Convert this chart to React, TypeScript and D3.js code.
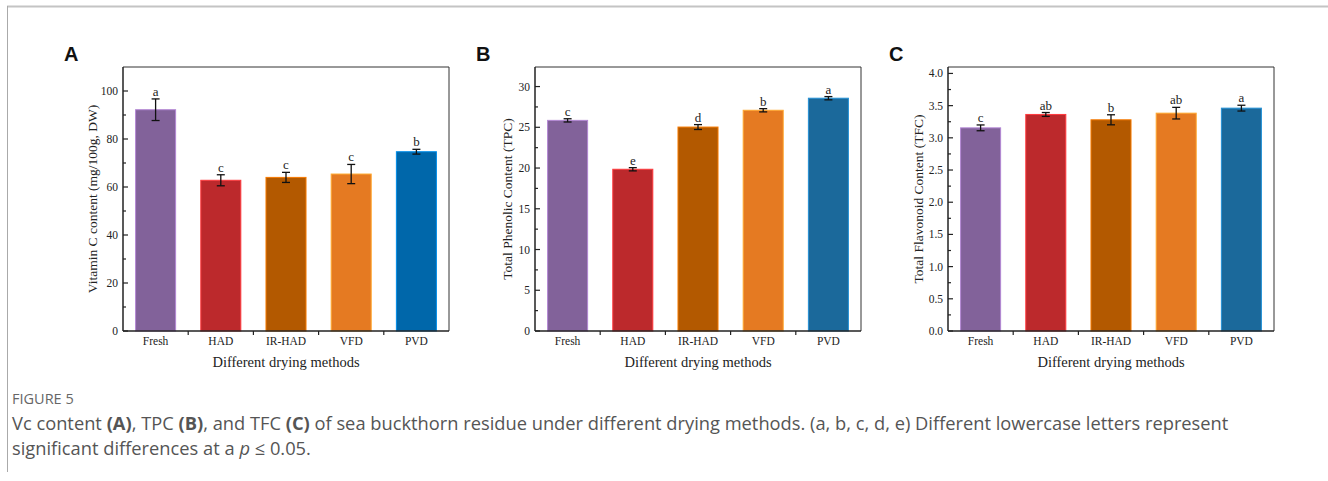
import React from 'react';
import * as d3 from 'd3';

const methods = ['Fresh', 'HAD', 'IR-HAD', 'VFD', 'PVD'];

const vcValues = [92.2, 62.8, 64.0, 65.4, 74.7];
const vcErrors = [4.5, 2.3, 2.1, 4.0, 1.0];
const vcLetters = ['a', 'c', 'c', 'c', 'b'];

const tpcValues = [25.85, 19.85, 25.03, 27.09, 28.57];
const tpcErrors = [0.2, 0.2, 0.3, 0.2, 0.2];
const tpcLetters = ['c', 'e', 'd', 'b', 'a'];

const tfcValues = [3.155, 3.363, 3.28, 3.383, 3.461];
const tfcErrors = [0.045, 0.03, 0.078, 0.09, 0.045];
const tfcLetters = ['c', 'ab', 'b', 'ab', 'a'];

const colorsA = ['#82629a', '#bc292c', '#b35900', '#e57a22', '#0067aa'];
const colorsBC = ['#82629a', '#bc292c', '#b35900', '#e57a22', '#1b699b'];

const serif = '"Liberation Serif", "DejaVu Serif", serif';
const frameTop = 67;
const frameBottom = 331;
const frameWidth = 326;

type PanelProps = {
  tag: string;
  left: number;
  values: number[];
  errors: number[];
  letters: string[];
  yMax: number;
  majorStep: number;
  tickFmt: (v: number) => string;
  yLabel: string;
  yLabelX: number;
  colors: string[];
};

const Panel = ({ tag, left, values, errors, letters, yMax, majorStep, tickFmt, yLabel, yLabelX, colors }: PanelProps) => {
  const xScale = d3
    .scaleBand<string>()
    .domain(methods)
    .range([left, left + frameWidth])
    .paddingInner(0.386)
    .paddingOuter(0.193);
  const yScale = d3.scaleLinear().domain([0, yMax]).range([frameBottom, frameTop]);
  const majors = d3.range(0, yMax + 1e-9, majorStep);
  const minors = d3.range(majorStep / 2, yMax, majorStep);
  const right = left + frameWidth;
  const step = xScale.step();
  const bw = xScale.bandwidth();
  return (
    <g>
      <text x={left - 59} y={61} fontFamily='"Liberation Sans", Arial, sans-serif' fontWeight="bold" fontSize={20} fill="#111">
        {tag}
      </text>
      {methods.map((m, i) => {
        const x = xScale(m) as number;
        const y = yScale(values[i]);
        const cx = x + bw / 2;
        const eTop = yScale(values[i] + errors[i]);
        const eBot = yScale(values[i] - errors[i]);
        return (
          <g key={m}>
            <rect
              x={x}
              y={y}
              width={bw}
              height={frameBottom - y}
              fill={colors[i]}
              stroke={d3.color(colors[i])!.brighter(0.9).formatHex()}
              strokeWidth={1}
            />
            <line x1={cx} x2={cx} y1={eTop} y2={eBot} stroke="#111" strokeWidth={1.3} />
            <line x1={cx - 4} x2={cx + 4} y1={eTop} y2={eTop} stroke="#111" strokeWidth={1.3} />
            <line x1={cx - 4} x2={cx + 4} y1={eBot} y2={eBot} stroke="#111" strokeWidth={1.3} />
            <text x={cx} y={eTop - 3} textAnchor="middle" fontFamily={serif} fontSize={13} fill="#222">
              {letters[i]}
            </text>
            <text x={cx} y={345} textAnchor="middle" fontFamily={serif} fontSize={11.5} fill="#222">
              {m}
            </text>
          </g>
        );
      })}
      {/* frame */}
      <line x1={left} x2={right} y1={frameTop} y2={frameTop} stroke="#333" strokeWidth={1} />
      <line x1={right} x2={right} y1={frameTop} y2={frameBottom} stroke="#333" strokeWidth={1} />
      <line x1={left} x2={left} y1={frameTop} y2={frameBottom} stroke="#222" strokeWidth={1.5} />
      <line x1={left} x2={right} y1={frameBottom} y2={frameBottom} stroke="#222" strokeWidth={1.5} />
      {majors.map(v => (
        <g key={'M' + v}>
          <line x1={left} x2={left + 5} y1={yScale(v)} y2={yScale(v)} stroke="#222" strokeWidth={1.2} />
          <text x={left - 5} y={yScale(v)} dy="0.35em" textAnchor="end" fontFamily={serif} fontSize={11.5} fill="#222">
            {tickFmt(v)}
          </text>
        </g>
      ))}
      {minors.map(v => (
        <line key={'m' + v} x1={left} x2={left + 3} y1={yScale(v)} y2={yScale(v)} stroke="#222" strokeWidth={1.2} />
      ))}
      {d3.range(1, methods.length).map(i => (
        <line key={'x' + i} x1={left + i * step} x2={left + i * step} y1={frameBottom} y2={frameBottom + 4} stroke="#222" strokeWidth={1.2} />
      ))}
      <text x={left + frameWidth / 2} y={367} textAnchor="middle" fontFamily={serif} fontSize={14.5} fill="#222">
        Different drying methods
      </text>
      <text
        transform={`translate(${yLabelX},${(frameTop + frameBottom) / 2}) rotate(-90)`}
        dy="0.35em"
        textAnchor="middle"
        fontFamily={serif}
        fontSize={13.5}
        fill="#222"
      >
        {yLabel}
      </text>
    </g>
  );
};

export default function App() {
  const sans = '"Open Sans", "Noto Sans", sans-serif';
  return (
    <div>
      <style>{`body{margin:0}`}</style>
      <svg width={1328} height={481} style={{ display: 'block' }}>
        <rect width={1328} height={481} fill="#fff" />
        <line x1={7} x2={1328} y1={6.5} y2={6.5} stroke="#c4c4c4" strokeWidth={2} />
        <line x1={7.5} x2={7.5} y1={6} y2={472} stroke="#aaa" strokeWidth={1} />
        <Panel
          tag="A"
          left={123}
          values={vcValues}
          errors={vcErrors}
          letters={vcLetters}
          yMax={110}
          majorStep={20}
          tickFmt={d3.format('d')}
          yLabel="Vitamin C content (mg/100g, DW)"
          yLabelX={92}
          colors={colorsA}
        />
        <Panel
          tag="B"
          left={535}
          values={tpcValues}
          errors={tpcErrors}
          letters={tpcLetters}
          yMax={32.4}
          majorStep={5}
          tickFmt={d3.format('d')}
          yLabel="Total Phenolic Content (TPC)"
          yLabelX={507}
          colors={colorsBC}
        />
        <Panel
          tag="C"
          left={948}
          values={tfcValues}
          errors={tfcErrors}
          letters={tfcLetters}
          yMax={4.1}
          majorStep={0.5}
          tickFmt={d3.format('.1f')}
          yLabel="Total Flavonoid Content (TFC)"
          yLabelX={918}
          colors={colorsBC}
        />
        <text x={12} y={404} fontFamily={sans} fontSize={14.5} fill="#666">
          FIGURE 5
        </text>
        <text x={12} y={430} fontFamily={sans} fontSize={18.3} fill="#555">
          Vc content <tspan fontWeight="bold">(A)</tspan>, TPC <tspan fontWeight="bold">(B)</tspan>, and TFC{' '}
          <tspan fontWeight="bold">(C)</tspan> of sea buckthorn residue under different drying methods. (a, b, c, d, e) Different
          lowercase letters represent
        </text>
        <text x={12} y={455} fontFamily={sans} fontSize={18.3} fill="#555">
          significant differences at a <tspan fontStyle="italic">p</tspan> ≤ 0.05.
        </text>
      </svg>
    </div>
  );
}
